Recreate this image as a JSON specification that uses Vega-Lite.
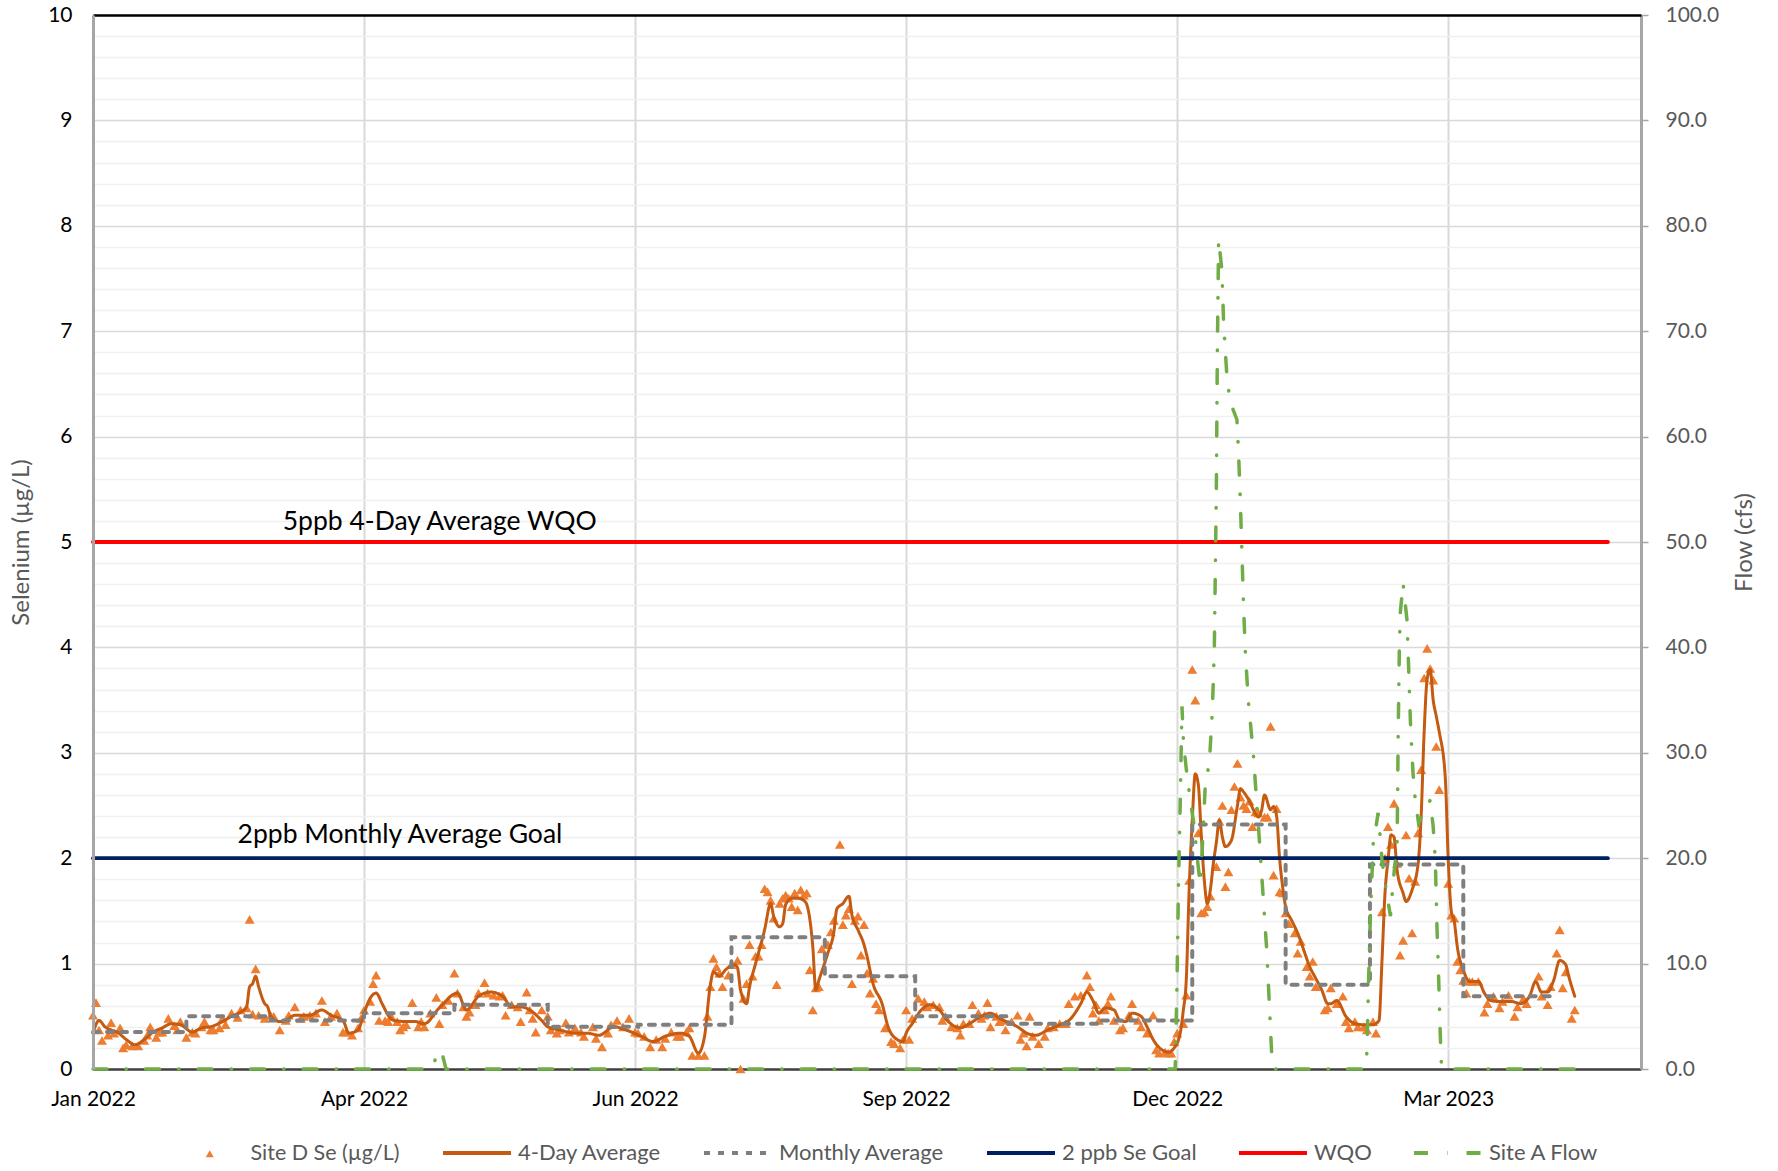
{
"$schema": "https://vega.github.io/schema/vega-lite/v6.json",
"width": 1548, "height": 1054,
"autosize": {"type": "none"},
"padding": {"left": 93, "top": 15, "right": 137, "bottom": 102},
"background": "white",
"config": {"view": {"stroke": null}, "font": "Lato", "axis": {"labelFont": "Lato", "titleFont": "Lato", "titleFontWeight": "normal", "labelFlush": false, "labelOverlap": false}},
"datasets": {
"se": [
{"date":"2022/01/01","value":0.51},{"date":"2022/01/02","value":0.63},{"date":"2022/01/03","value":0.37},{"date":"2022/01/04","value":0.27},{"date":"2022/01/06","value":0.32},{"date":"2022/01/07","value":0.44},{"date":"2022/01/08","value":0.34},{"date":"2022/01/10","value":0.39},{"date":"2022/01/11","value":0.20},{"date":"2022/01/12","value":0.23},{"date":"2022/01/14","value":0.22},{"date":"2022/01/16","value":0.22},{"date":"2022/01/18","value":0.27},{"date":"2022/01/19","value":0.32},{"date":"2022/01/20","value":0.40},{"date":"2022/01/22","value":0.30},{"date":"2022/01/23","value":0.35},{"date":"2022/01/24","value":0.35},{"date":"2022/01/26","value":0.48},{"date":"2022/01/28","value":0.41},{"date":"2022/01/29","value":0.37},{"date":"2022/01/30","value":0.45},
{"date":"2022/02/01","value":0.30},{"date":"2022/02/03","value":0.35},{"date":"2022/02/04","value":0.34},{"date":"2022/02/06","value":0.40},{"date":"2022/02/07","value":0.45},{"date":"2022/02/09","value":0.37},{"date":"2022/02/10","value":0.37},{"date":"2022/02/12","value":0.39},{"date":"2022/02/13","value":0.48},{"date":"2022/02/14","value":0.42},{"date":"2022/02/16","value":0.53},{"date":"2022/02/18","value":0.49},{"date":"2022/02/19","value":0.56},{"date":"2022/02/21","value":0.58},{"date":"2022/02/22","value":1.42},{"date":"2022/02/23","value":0.52},{"date":"2022/02/24","value":0.95},{"date":"2022/02/25","value":0.51},{"date":"2022/02/27","value":0.48},
{"date":"2022/03/01","value":0.51},{"date":"2022/03/02","value":0.50},{"date":"2022/03/04","value":0.37},{"date":"2022/03/06","value":0.46},{"date":"2022/03/07","value":0.51},{"date":"2022/03/09","value":0.59},{"date":"2022/03/11","value":0.48},{"date":"2022/03/12","value":0.50},{"date":"2022/03/14","value":0.51},{"date":"2022/03/16","value":0.53},{"date":"2022/03/18","value":0.65},{"date":"2022/03/19","value":0.45},{"date":"2022/03/21","value":0.50},{"date":"2022/03/23","value":0.53},{"date":"2022/03/25","value":0.35},{"date":"2022/03/26","value":0.35},{"date":"2022/03/28","value":0.32},{"date":"2022/03/30","value":0.39},{"date":"2022/03/31","value":0.48},
{"date":"2022/04/01","value":0.56},{"date":"2022/04/03","value":0.64},{"date":"2022/04/04","value":0.81},{"date":"2022/04/05","value":0.89},{"date":"2022/04/06","value":0.46},{"date":"2022/04/08","value":0.46},{"date":"2022/04/09","value":0.45},{"date":"2022/04/10","value":0.50},{"date":"2022/04/12","value":0.45},{"date":"2022/04/13","value":0.37},{"date":"2022/04/14","value":0.40},{"date":"2022/04/15","value":0.42},{"date":"2022/04/17","value":0.63},{"date":"2022/04/19","value":0.40},{"date":"2022/04/20","value":0.45},{"date":"2022/04/21","value":0.40},{"date":"2022/04/23","value":0.53},{"date":"2022/04/25","value":0.68},{"date":"2022/04/26","value":0.43},{"date":"2022/04/27","value":0.61},{"date":"2022/04/29","value":0.65},
{"date":"2022/05/01","value":0.91},{"date":"2022/05/02","value":0.72},{"date":"2022/05/04","value":0.59},{"date":"2022/05/05","value":0.50},{"date":"2022/05/06","value":0.54},{"date":"2022/05/08","value":0.61},{"date":"2022/05/09","value":0.72},{"date":"2022/05/11","value":0.82},{"date":"2022/05/12","value":0.72},{"date":"2022/05/14","value":0.70},{"date":"2022/05/16","value":0.69},{"date":"2022/05/17","value":0.70},{"date":"2022/05/18","value":0.51},{"date":"2022/05/20","value":0.61},{"date":"2022/05/22","value":0.59},{"date":"2022/05/23","value":0.45},{"date":"2022/05/25","value":0.73},{"date":"2022/05/26","value":0.56},{"date":"2022/05/27","value":0.48},{"date":"2022/05/28","value":0.35},{"date":"2022/05/30","value":0.56},
{"date":"2022/06/01","value":0.50},{"date":"2022/06/02","value":0.37},{"date":"2022/06/04","value":0.34},{"date":"2022/06/05","value":0.37},{"date":"2022/06/07","value":0.44},{"date":"2022/06/08","value":0.35},{"date":"2022/06/10","value":0.39},{"date":"2022/06/12","value":0.35},{"date":"2022/06/13","value":0.31},{"date":"2022/06/16","value":0.40},{"date":"2022/06/17","value":0.29},{"date":"2022/06/19","value":0.21},{"date":"2022/06/21","value":0.34},{"date":"2022/06/22","value":0.42},{"date":"2022/06/24","value":0.46},{"date":"2022/06/26","value":0.40},{"date":"2022/06/28","value":0.48},{"date":"2022/06/30","value":0.35},
{"date":"2022/07/01","value":0.34},{"date":"2022/07/03","value":0.31},{"date":"2022/07/05","value":0.21},{"date":"2022/07/07","value":0.28},{"date":"2022/07/09","value":0.21},{"date":"2022/07/10","value":0.29},{"date":"2022/07/12","value":0.35},{"date":"2022/07/14","value":0.31},{"date":"2022/07/15","value":0.31},{"date":"2022/07/17","value":0.35},{"date":"2022/07/18","value":0.39},{"date":"2022/07/19","value":0.13},{"date":"2022/07/21","value":0.13},{"date":"2022/07/23","value":0.13},{"date":"2022/07/24","value":0.50},{"date":"2022/07/25","value":0.78},{"date":"2022/07/26","value":1.05},{"date":"2022/07/27","value":0.97},{"date":"2022/07/28","value":0.91},{"date":"2022/07/29","value":0.78},{"date":"2022/07/31","value":0.89},
{"date":"2022/08/01","value":0.99},{"date":"2022/08/03","value":1.03},{"date":"2022/08/04","value":0.00},{"date":"2022/08/05","value":0.67},{"date":"2022/08/06","value":0.81},{"date":"2022/08/07","value":1.18},{"date":"2022/08/08","value":0.88},{"date":"2022/08/09","value":1.07},{"date":"2022/08/10","value":1.07},{"date":"2022/08/11","value":1.18},{"date":"2022/08/12","value":1.71},{"date":"2022/08/13","value":1.68},{"date":"2022/08/14","value":1.60},{"date":"2022/08/15","value":1.43},{"date":"2022/08/16","value":0.80},{"date":"2022/08/17","value":1.57},{"date":"2022/08/18","value":1.62},{"date":"2022/08/19","value":1.65},{"date":"2022/08/20","value":1.62},{"date":"2022/08/21","value":1.54},{"date":"2022/08/22","value":1.67},{"date":"2022/08/23","value":1.51},{"date":"2022/08/24","value":1.70},{"date":"2022/08/25","value":1.65},{"date":"2022/08/26","value":1.67},{"date":"2022/08/27","value":0.94},{"date":"2022/08/28","value":0.56},{"date":"2022/08/29","value":0.77},{"date":"2022/08/30","value":0.78},{"date":"2022/08/31","value":1.14},
{"date":"2022/09/02","value":1.18},{"date":"2022/09/03","value":1.30},{"date":"2022/09/04","value":1.41},{"date":"2022/09/06","value":2.13},{"date":"2022/09/07","value":1.37},{"date":"2022/09/08","value":1.46},{"date":"2022/09/09","value":1.52},{"date":"2022/09/10","value":0.81},{"date":"2022/09/11","value":1.41},{"date":"2022/09/12","value":1.45},{"date":"2022/09/13","value":1.08},{"date":"2022/09/14","value":1.37},{"date":"2022/09/15","value":0.91},{"date":"2022/09/16","value":0.72},{"date":"2022/09/17","value":0.86},{"date":"2022/09/18","value":0.62},{"date":"2022/09/19","value":0.56},{"date":"2022/09/21","value":0.39},{"date":"2022/09/23","value":0.26},{"date":"2022/09/24","value":0.24},{"date":"2022/09/26","value":0.20},{"date":"2022/09/27","value":0.28},{"date":"2022/09/28","value":0.56},{"date":"2022/09/29","value":0.28},{"date":"2022/09/30","value":0.48},
{"date":"2022/10/02","value":0.67},{"date":"2022/10/04","value":0.64},{"date":"2022/10/05","value":0.59},{"date":"2022/10/07","value":0.61},{"date":"2022/10/09","value":0.59},{"date":"2022/10/10","value":0.46},{"date":"2022/10/11","value":0.50},{"date":"2022/10/13","value":0.40},{"date":"2022/10/15","value":0.39},{"date":"2022/10/16","value":0.32},{"date":"2022/10/17","value":0.43},{"date":"2022/10/19","value":0.43},{"date":"2022/10/20","value":0.61},{"date":"2022/10/22","value":0.53},{"date":"2022/10/23","value":0.48},{"date":"2022/10/24","value":0.51},{"date":"2022/10/25","value":0.63},{"date":"2022/10/26","value":0.40},{"date":"2022/10/28","value":0.50},{"date":"2022/10/29","value":0.45},{"date":"2022/10/30","value":0.46},{"date":"2022/10/31","value":0.37},
{"date":"2022/11/02","value":0.45},{"date":"2022/11/04","value":0.51},{"date":"2022/11/05","value":0.28},{"date":"2022/11/06","value":0.34},{"date":"2022/11/07","value":0.22},{"date":"2022/11/08","value":0.50},{"date":"2022/11/09","value":0.31},{"date":"2022/11/11","value":0.24},{"date":"2022/11/13","value":0.31},{"date":"2022/11/14","value":0.39},{"date":"2022/11/16","value":0.40},{"date":"2022/11/18","value":0.43},{"date":"2022/11/20","value":0.43},{"date":"2022/11/21","value":0.62},{"date":"2022/11/23","value":0.69},{"date":"2022/11/25","value":0.70},{"date":"2022/11/27","value":0.89},{"date":"2022/11/28","value":0.78},{"date":"2022/11/29","value":0.53},{"date":"2022/11/30","value":0.61},
{"date":"2022/12/01","value":0.46},{"date":"2022/12/03","value":0.56},{"date":"2022/12/04","value":0.62},{"date":"2022/12/05","value":0.69},{"date":"2022/12/06","value":0.46},{"date":"2022/12/08","value":0.37},{"date":"2022/12/09","value":0.39},{"date":"2022/12/11","value":0.51},{"date":"2022/12/12","value":0.62},{"date":"2022/12/14","value":0.46},{"date":"2022/12/15","value":0.40},{"date":"2022/12/17","value":0.34},{"date":"2022/12/19","value":0.51},{"date":"2022/12/20","value":0.18},{"date":"2022/12/21","value":0.15},{"date":"2022/12/23","value":0.16},{"date":"2022/12/24","value":0.15},{"date":"2022/12/25","value":0.15},{"date":"2022/12/26","value":0.26},{"date":"2022/12/27","value":0.34},{"date":"2022/12/29","value":0.43},{"date":"2022/12/30","value":0.70},{"date":"2022/12/31","value":1.79},
{"date":"2023/01/01","value":3.79},{"date":"2023/01/02","value":3.50},{"date":"2023/01/03","value":2.24},{"date":"2023/01/04","value":1.48},{"date":"2023/01/05","value":1.49},{"date":"2023/01/06","value":1.54},{"date":"2023/01/07","value":1.64},{"date":"2023/01/09","value":1.92},{"date":"2023/01/10","value":2.35},{"date":"2023/01/11","value":2.50},{"date":"2023/01/12","value":1.73},{"date":"2023/01/13","value":1.87},{"date":"2023/01/14","value":2.46},{"date":"2023/01/15","value":2.68},{"date":"2023/01/16","value":2.90},{"date":"2023/01/17","value":2.58},{"date":"2023/01/18","value":2.50},{"date":"2023/01/19","value":2.47},{"date":"2023/01/20","value":2.54},{"date":"2023/01/21","value":2.30},{"date":"2023/01/22","value":2.44},{"date":"2023/01/23","value":2.43},{"date":"2023/01/25","value":2.39},{"date":"2023/01/26","value":2.39},{"date":"2023/01/27","value":3.25},{"date":"2023/01/28","value":1.84},{"date":"2023/01/29","value":2.47},{"date":"2023/01/30","value":1.68},{"date":"2023/01/31","value":1.67},
{"date":"2023/02/01","value":1.48},{"date":"2023/02/02","value":1.38},{"date":"2023/02/04","value":1.29},{"date":"2023/02/05","value":1.10},{"date":"2023/02/06","value":1.21},{"date":"2023/02/08","value":0.97},{"date":"2023/02/09","value":0.88},{"date":"2023/02/10","value":1.02},{"date":"2023/02/11","value":0.78},{"date":"2023/02/14","value":0.56},{"date":"2023/02/15","value":0.58},{"date":"2023/02/16","value":0.77},{"date":"2023/02/18","value":0.62},{"date":"2023/02/20","value":0.69},{"date":"2023/02/21","value":0.45},{"date":"2023/02/22","value":0.39},{"date":"2023/02/24","value":0.45},{"date":"2023/02/25","value":0.40},{"date":"2023/02/27","value":0.40},{"date":"2023/02/28","value":0.37},
{"date":"2023/03/02","value":0.45},{"date":"2023/03/03","value":0.34},{"date":"2023/03/05","value":1.49},{"date":"2023/03/06","value":2.00},{"date":"2023/03/07","value":2.30},{"date":"2023/03/08","value":2.13},{"date":"2023/03/09","value":2.52},{"date":"2023/03/10","value":1.95},{"date":"2023/03/11","value":1.08},{"date":"2023/03/12","value":1.22},{"date":"2023/03/13","value":2.22},{"date":"2023/03/14","value":1.81},{"date":"2023/03/15","value":1.29},{"date":"2023/03/16","value":1.78},{"date":"2023/03/17","value":2.24},{"date":"2023/03/18","value":2.84},{"date":"2023/03/19","value":3.71},{"date":"2023/03/20","value":3.99},{"date":"2023/03/21","value":3.80},{"date":"2023/03/22","value":3.69},{"date":"2023/03/23","value":3.06},{"date":"2023/03/24","value":2.65},{"date":"2023/03/27","value":1.76},{"date":"2023/03/28","value":1.46},{"date":"2023/03/29","value":1.43},{"date":"2023/03/30","value":1.02},{"date":"2023/03/31","value":0.94},
{"date":"2023/04/01","value":0.84},{"date":"2023/04/02","value":0.72},{"date":"2023/04/03","value":0.83},{"date":"2023/04/04","value":0.83},{"date":"2023/04/06","value":0.83},{"date":"2023/04/08","value":0.54},{"date":"2023/04/09","value":0.62},{"date":"2023/04/11","value":0.69},{"date":"2023/04/13","value":0.58},{"date":"2023/04/14","value":0.64},{"date":"2023/04/16","value":0.70},{"date":"2023/04/18","value":0.50},{"date":"2023/04/19","value":0.59},{"date":"2023/04/21","value":0.67},{"date":"2023/04/22","value":0.62},{"date":"2023/04/26","value":0.88},{"date":"2023/04/27","value":0.69},{"date":"2023/04/29","value":0.61},{"date":"2023/04/30","value":0.78},{"date":"2023/05/02","value":1.10},{"date":"2023/05/03","value":1.32},{"date":"2023/05/04","value":0.77},{"date":"2023/05/05","value":0.92},{"date":"2023/05/07","value":0.48},{"date":"2023/05/08","value":0.56}
],
"avg4": [
{"date":"2022/01/01","value":0.34},{"date":"2022/01/03","value":0.46},{"date":"2022/01/05","value":0.40},{"date":"2022/01/07","value":0.37},{"date":"2022/01/09","value":0.35},{"date":"2022/01/12","value":0.28},{"date":"2022/01/15","value":0.23},{"date":"2022/01/18","value":0.28},{"date":"2022/01/21","value":0.35},{"date":"2022/01/24","value":0.39},{"date":"2022/01/27","value":0.43},{"date":"2022/01/30","value":0.42},{"date":"2022/02/03","value":0.35},{"date":"2022/02/06","value":0.39},{"date":"2022/02/09","value":0.40},{"date":"2022/02/13","value":0.45},{"date":"2022/02/16","value":0.50},{"date":"2022/02/19","value":0.54},{"date":"2022/02/21","value":0.59},{"date":"2022/02/22","value":0.78},{"date":"2022/02/23","value":0.81},{"date":"2022/02/24","value":0.88},{"date":"2022/02/25","value":0.78},{"date":"2022/02/27","value":0.62},{"date":"2022/02/28","value":0.59},{"date":"2022/03/01","value":0.50},{"date":"2022/03/04","value":0.45},{"date":"2022/03/06","value":0.46},{"date":"2022/03/09","value":0.51},{"date":"2022/03/14","value":0.51},{"date":"2022/03/18","value":0.56},{"date":"2022/03/21","value":0.51},{"date":"2022/03/25","value":0.46},{"date":"2022/03/27","value":0.34},{"date":"2022/03/30","value":0.37},{"date":"2022/04/01","value":0.53},{"date":"2022/04/03","value":0.67},{"date":"2022/04/05","value":0.72},{"date":"2022/04/07","value":0.62},{"date":"2022/04/09","value":0.51},{"date":"2022/04/11","value":0.46},{"date":"2022/04/15","value":0.45},{"date":"2022/04/18","value":0.45},{"date":"2022/04/21","value":0.43},{"date":"2022/04/26","value":0.58},{"date":"2022/05/02","value":0.72},{"date":"2022/05/05","value":0.56},{"date":"2022/05/09","value":0.69},{"date":"2022/05/13","value":0.73},{"date":"2022/05/17","value":0.69},{"date":"2022/05/20","value":0.59},{"date":"2022/05/23","value":0.59},{"date":"2022/05/26","value":0.56},{"date":"2022/05/30","value":0.46},{"date":"2022/06/01","value":0.40},{"date":"2022/06/05","value":0.37},{"date":"2022/06/10","value":0.34},{"date":"2022/06/14","value":0.34},{"date":"2022/06/18","value":0.32},{"date":"2022/06/23","value":0.40},{"date":"2022/06/27","value":0.37},{"date":"2022/07/02","value":0.31},{"date":"2022/07/06","value":0.26},{"date":"2022/07/10","value":0.31},{"date":"2022/07/15","value":0.34},{"date":"2022/07/18","value":0.31},{"date":"2022/07/21","value":0.15},{"date":"2022/07/23","value":0.30},{"date":"2022/07/25","value":0.80},{"date":"2022/07/26","value":0.92},{"date":"2022/07/28","value":0.88},{"date":"2022/07/30","value":0.94},{"date":"2022/08/02","value":0.99},{"date":"2022/08/03","value":0.96},{"date":"2022/08/04","value":0.75},{"date":"2022/08/06","value":0.62},{"date":"2022/08/07","value":0.78},{"date":"2022/08/09","value":1.00},{"date":"2022/08/12","value":1.32},{"date":"2022/08/14","value":1.57},{"date":"2022/08/15","value":1.45},{"date":"2022/08/17","value":1.35},{"date":"2022/08/18","value":1.38},{"date":"2022/08/19","value":1.56},{"date":"2022/08/21","value":1.62},{"date":"2022/08/23","value":1.62},{"date":"2022/08/25","value":1.60},{"date":"2022/08/26","value":1.56},{"date":"2022/08/28","value":1.16},{"date":"2022/08/29","value":0.75},{"date":"2022/08/30","value":0.84},{"date":"2022/09/02","value":1.10},{"date":"2022/09/04","value":1.30},{"date":"2022/09/05","value":1.52},{"date":"2022/09/07","value":1.57},{"date":"2022/09/09","value":1.64},{"date":"2022/09/10","value":1.46},{"date":"2022/09/12","value":1.32},{"date":"2022/09/14","value":1.18},{"date":"2022/09/15","value":1.07},{"date":"2022/09/17","value":0.81},{"date":"2022/09/20","value":0.62},{"date":"2022/09/22","value":0.40},{"date":"2022/09/25","value":0.28},{"date":"2022/09/27","value":0.26},{"date":"2022/09/28","value":0.34},{"date":"2022/09/30","value":0.43},{"date":"2022/10/03","value":0.56},{"date":"2022/10/06","value":0.61},{"date":"2022/10/09","value":0.56},{"date":"2022/10/12","value":0.45},{"date":"2022/10/16","value":0.39},{"date":"2022/10/19","value":0.43},{"date":"2022/10/23","value":0.50},{"date":"2022/10/26","value":0.53},{"date":"2022/10/29","value":0.48},{"date":"2022/11/01","value":0.44},{"date":"2022/11/04","value":0.40},{"date":"2022/11/07","value":0.34},{"date":"2022/11/10","value":0.32},{"date":"2022/11/14","value":0.37},{"date":"2022/11/18","value":0.42},{"date":"2022/11/21","value":0.46},{"date":"2022/11/25","value":0.62},{"date":"2022/11/27","value":0.73},{"date":"2022/11/29","value":0.65},{"date":"2022/12/01","value":0.53},{"date":"2022/12/03","value":0.58},{"date":"2022/12/06","value":0.56},{"date":"2022/12/08","value":0.46},{"date":"2022/12/10","value":0.45},{"date":"2022/12/12","value":0.53},{"date":"2022/12/15","value":0.50},{"date":"2022/12/17","value":0.40},{"date":"2022/12/19","value":0.28},{"date":"2022/12/22","value":0.18},{"date":"2022/12/24","value":0.16},{"date":"2022/12/26","value":0.20},{"date":"2022/12/28","value":0.34},{"date":"2022/12/29","value":0.55},{"date":"2022/12/30","value":0.84},{"date":"2022/12/31","value":1.73},{"date":"2023/01/01","value":2.36},{"date":"2023/01/02","value":2.80},{"date":"2023/01/03","value":2.70},{"date":"2023/01/04","value":2.22},{"date":"2023/01/05","value":1.79},{"date":"2023/01/06","value":1.57},{"date":"2023/01/07","value":1.70},{"date":"2023/01/08","value":1.95},{"date":"2023/01/09","value":2.15},{"date":"2023/01/10","value":2.36},{"date":"2023/01/11","value":2.20},{"date":"2023/01/12","value":2.11},{"date":"2023/01/14","value":2.17},{"date":"2023/01/16","value":2.50},{"date":"2023/01/17","value":2.66},{"date":"2023/01/18","value":2.63},{"date":"2023/01/20","value":2.54},{"date":"2023/01/22","value":2.42},{"date":"2023/01/23","value":2.39},{"date":"2023/01/24","value":2.45},{"date":"2023/01/25","value":2.60},{"date":"2023/01/27","value":2.46},{"date":"2023/01/28","value":2.49},{"date":"2023/01/29","value":2.40},{"date":"2023/01/30","value":2.00},{"date":"2023/01/31","value":1.73},{"date":"2023/02/01","value":1.54},{"date":"2023/02/03","value":1.41},{"date":"2023/02/05","value":1.29},{"date":"2023/02/07","value":1.13},{"date":"2023/02/09","value":0.97},{"date":"2023/02/11","value":0.86},{"date":"2023/02/13","value":0.75},{"date":"2023/02/15","value":0.62},{"date":"2023/02/16","value":0.62},{"date":"2023/02/18","value":0.65},{"date":"2023/02/21","value":0.50},{"date":"2023/02/24","value":0.43},{"date":"2023/02/27","value":0.42},{"date":"2023/03/02","value":0.42},{"date":"2023/03/04","value":0.46},{"date":"2023/03/05","value":1.03},{"date":"2023/03/06","value":1.67},{"date":"2023/03/07","value":1.98},{"date":"2023/03/08","value":2.22},{"date":"2023/03/09","value":2.20},{"date":"2023/03/10","value":1.89},{"date":"2023/03/12","value":1.67},{"date":"2023/03/13","value":1.59},{"date":"2023/03/15","value":1.70},{"date":"2023/03/17","value":1.95},{"date":"2023/03/18","value":2.40},{"date":"2023/03/19","value":3.20},{"date":"2023/03/20","value":3.70},{"date":"2023/03/21","value":3.79},{"date":"2023/03/22","value":3.50},{"date":"2023/03/23","value":3.35},{"date":"2023/03/24","value":3.20},{"date":"2023/03/26","value":2.77},{"date":"2023/03/27","value":1.98},{"date":"2023/03/28","value":1.50},{"date":"2023/03/29","value":1.40},{"date":"2023/03/30","value":1.16},{"date":"2023/04/01","value":0.94},{"date":"2023/04/03","value":0.83},{"date":"2023/04/06","value":0.83},{"date":"2023/04/08","value":0.72},{"date":"2023/04/10","value":0.65},{"date":"2023/04/13","value":0.64},{"date":"2023/04/17","value":0.64},{"date":"2023/04/20","value":0.62},{"date":"2023/04/23","value":0.69},{"date":"2023/04/25","value":0.83},{"date":"2023/04/27","value":0.73},{"date":"2023/04/29","value":0.73},{"date":"2023/05/01","value":0.84},{"date":"2023/05/03","value":1.03},{"date":"2023/05/05","value":0.99},{"date":"2023/05/06","value":0.88},{"date":"2023/05/08","value":0.69}
],
"monthly": [
{"date":"2022/01/01","value":0.35},{"date":"2022/02/01","value":0.50},{"date":"2022/03/01","value":0.46},{"date":"2022/04/01","value":0.53},{"date":"2022/05/01","value":0.61},{"date":"2022/06/01","value":0.40},{"date":"2022/07/01","value":0.42},{"date":"2022/08/01","value":1.25},{"date":"2022/09/01","value":0.88},{"date":"2022/10/01","value":0.50},{"date":"2022/11/01","value":0.43},{"date":"2022/12/01","value":0.46},{"date":"2023/01/01","value":2.32},{"date":"2023/02/01","value":0.80},{"date":"2023/03/01","value":1.94},{"date":"2023/04/01","value":0.69},{"date":"2023/04/30","value":0.69}
],
"goal": [{"date":"2022/01/01","value":2},{"date":"2023/05/19","value":2}],
"wqo": [{"date":"2022/01/01","value":5},{"date":"2023/05/19","value":5}],
"flow": [
{"date":"2022/01/01 00:00","cfs":0},{"date":"2022/04/23 14:00","cfs":0},{"date":"2022/04/25 17:00","cfs":1.8},{"date":"2022/04/27 02:00","cfs":1.3},{"date":"2022/04/28 05:00","cfs":0},
{"date":"2022/12/26 08:00","cfs":0},{"date":"2022/12/26 22:00","cfs":7.8},{"date":"2022/12/27 10:00","cfs":17.3},{"date":"2022/12/28 00:00","cfs":25.2},{"date":"2022/12/28 14:00","cfs":34.4},{"date":"2022/12/29 02:00","cfs":31},{"date":"2022/12/30 00:00","cfs":28.5},{"date":"2022/12/31 08:00","cfs":25.5},{"date":"2023/01/01 16:00","cfs":23},{"date":"2023/01/02 16:00","cfs":20},{"date":"2023/01/03 16:00","cfs":17.5},{"date":"2023/01/04 08:00","cfs":21},{"date":"2023/01/05 08:00","cfs":27},{"date":"2023/01/06 16:00","cfs":29},{"date":"2023/01/07 16:00","cfs":34},{"date":"2023/01/08 08:00","cfs":40},{"date":"2023/01/09 00:00","cfs":55},{"date":"2023/01/09 08:00","cfs":68},{"date":"2023/01/09 18:00","cfs":78.7},{"date":"2023/01/10 20:00","cfs":75.8},{"date":"2023/01/11 10:00","cfs":70.8},{"date":"2023/01/12 12:00","cfs":65.7},{"date":"2023/01/13 14:00","cfs":63.3},{"date":"2023/01/15 20:00","cfs":61.6},{"date":"2023/01/16 09:00","cfs":58.4},{"date":"2023/01/16 22:00","cfs":54.3},{"date":"2023/01/17 12:00","cfs":48.9},{"date":"2023/01/18 00:00","cfs":44.2},{"date":"2023/01/18 14:00","cfs":39.8},{"date":"2023/01/19 14:00","cfs":35},{"date":"2023/01/21 06:00","cfs":30},{"date":"2023/01/23 14:00","cfs":20.5},{"date":"2023/01/25 19:00","cfs":11},{"date":"2023/01/27 11:00","cfs":0.9},{"date":"2023/01/28 05:00","cfs":0},
{"date":"2023/02/27 11:00","cfs":0},{"date":"2023/02/28 00:00","cfs":1.6},{"date":"2023/02/28 12:00","cfs":7.8},{"date":"2023/03/01 02:00","cfs":14},{"date":"2023/03/02 02:00","cfs":21.4},{"date":"2023/03/02 17:00","cfs":22.4},{"date":"2023/03/03 17:00","cfs":24.3},{"date":"2023/03/04 10:00","cfs":22},{"date":"2023/03/05 00:00","cfs":19.8},{"date":"2023/03/06 10:00","cfs":17},{"date":"2023/03/07 19:00","cfs":14.5},{"date":"2023/03/08 19:00","cfs":18},{"date":"2023/03/10 00:00","cfs":21.4},{"date":"2023/03/10 05:00","cfs":26.2},{"date":"2023/03/10 08:00","cfs":30.9},{"date":"2023/03/10 19:00","cfs":40.4},{"date":"2023/03/11 02:00","cfs":43.3},{"date":"2023/03/12 00:00","cfs":46.1},{"date":"2023/03/13 07:00","cfs":42.6},{"date":"2023/03/13 20:00","cfs":38.2},{"date":"2023/03/14 10:00","cfs":33.1},{"date":"2023/03/15 07:00","cfs":28.1},{"date":"2023/03/16 01:00","cfs":25.5},{"date":"2023/03/17 04:00","cfs":23.3},{"date":"2023/03/19 00:00","cfs":24.5},{"date":"2023/03/21 00:00","cfs":25.5},{"date":"2023/03/22 00:00","cfs":23},{"date":"2023/03/22 17:00","cfs":19.8},{"date":"2023/03/23 06:00","cfs":13.5},{"date":"2023/03/23 19:00","cfs":8.8},{"date":"2023/03/24 08:00","cfs":3.4},{"date":"2023/03/24 17:00","cfs":0.6},{"date":"2023/03/25 10:00","cfs":0},{"date":"2023/05/14 00:00","cfs":0}
]
},
"layer": [
{"layer": [
 {"data": {"name": "se"},
  "mark": {"type": "point", "shape": "triangle-up", "filled": true, "size": 100, "opacity": 1},
  "encoding": {
   "x": {"field": "date", "type": "temporal",
     "scale": {"domain": [{"year": 2022, "month": 1, "date": 1}, {"year": 2023, "month": 5, "date": 30}], "nice": false},
     "axis": {"title": null, "orient": "bottom", "values": [{"year": 2022, "month": 1, "date": 1}, {"year": 2022, "month": 4, "date": 1}, {"year": 2022, "month": 6, "date": 30}, {"year": 2022, "month": 9, "date": 28}, {"year": 2022, "month": 12, "date": 27}, {"year": 2023, "month": 3, "date": 27}],
       "format": "%b %Y", "grid": true, "gridColor": "#D9D9D9", "gridWidth": 2, "ticks": false, "domainColor": "#3F3F3F", "domainWidth": 2.5,
       "labelFontSize": 21, "labelColor": "#000000", "labelPadding": 19, "labelFlush": false, "zindex": 0}},
   "y": {"field": "value", "type": "quantitative", "scale": {"domain": [0, 10], "nice": false},
     "axis": {"title": "Selenium (µg/L)", "orient": "left", "values": [0,1,2,3,4,5,6,7,8,9,10], "format": "d", "grid": false, "ticks": false,
       "domainColor": "#A6A6A6", "domainWidth": 3, "labelFontSize": 21, "labelColor": "#000000", "labelPadding": 21,
       "titleFontSize": 24, "titleColor": "#595959", "titlePadding": 14, "zindex": 1}},
   "fill": {"datum": "Site D Se (µg/L)",
     "scale": {"domain": ["Site D Se (µg/L)"], "range": ["#ED7D31"]},
     "legend": {"title": null, "orient": "none", "legendX": 106, "legendY": 1128, "symbolType": "triangle-up", "symbolSize": 64,
       "labelFont": "Lato", "labelFontSize": 21.5, "labelColor": "#595959", "labelOffset": 30, "labelLimit": 400}}
  }},
 {"data": {"name": "avg4"},
  "mark": {"type": "line", "interpolate": "monotone", "strokeWidth": 3, "strokeCap": "round", "strokeJoin": "round"},
  "encoding": {
   "x": {"field": "date", "type": "temporal"},
   "y": {"field": "value", "type": "quantitative"},
   "color": {"datum": "4-Day Average",
     "scale": {"domain": ["4-Day Average", "Monthly Average", "2 ppb Se Goal", "WQO", "Site A Flow"], "range": ["#C55A11", "#7F7F7F", "#002060", "#FF0000", "#70AD47"]},
     "legend": {"title": null, "orient": "none", "legendX": 348, "legendY": 1102, "direction": "horizontal", "columns": 5, "columnPadding": 34,
       "symbolType": "stroke", "symbolSize": 4624, "symbolStrokeWidth": 4, "symbolOpacity": 1,
       "labelFont": "Lato", "labelFontSize": 22, "labelColor": "#595959", "labelOffset": 5, "labelLimit": 400}},
   "strokeDash": {"datum": "4-Day Average",
     "scale": {"domain": ["4-Day Average", "Monthly Average", "2 ppb Se Goal", "WQO", "Site A Flow"], "range": [[1, 0], [6, 8], [1, 0], [1, 0], [14, 19, 0.5, 19]]}, "legend": {"title": null}}
  }},
 {"data": {"name": "monthly"},
  "mark": {"type": "line", "interpolate": "step-after", "strokeWidth": 4, "strokeCap": "round"},
  "encoding": {
   "x": {"field": "date", "type": "temporal"},
   "y": {"field": "value", "type": "quantitative"},
   "color": {"datum": "Monthly Average", "scale": {"domain": ["4-Day Average", "Monthly Average", "2 ppb Se Goal", "WQO", "Site A Flow"], "range": ["#C55A11", "#7F7F7F", "#002060", "#FF0000", "#70AD47"]}},
   "strokeDash": {"datum": "Monthly Average", "scale": {"domain": ["4-Day Average", "Monthly Average", "2 ppb Se Goal", "WQO", "Site A Flow"], "range": [[1, 0], [6, 8], [1, 0], [1, 0], [14, 19, 0.5, 19]]}}
  }},
 {"data": {"name": "goal"},
  "mark": {"type": "line", "strokeWidth": 3.8, "strokeCap": "round"},
  "encoding": {
   "x": {"field": "date", "type": "temporal"},
   "y": {"field": "value", "type": "quantitative"},
   "color": {"datum": "2 ppb Se Goal", "scale": {"domain": ["4-Day Average", "Monthly Average", "2 ppb Se Goal", "WQO", "Site A Flow"], "range": ["#C55A11", "#7F7F7F", "#002060", "#FF0000", "#70AD47"]}}
  }},
 {"data": {"name": "wqo"},
  "mark": {"type": "line", "strokeWidth": 4, "strokeCap": "round"},
  "encoding": {
   "x": {"field": "date", "type": "temporal"},
   "y": {"field": "value", "type": "quantitative"},
   "color": {"datum": "WQO", "scale": {"domain": ["4-Day Average", "Monthly Average", "2 ppb Se Goal", "WQO", "Site A Flow"], "range": ["#C55A11", "#7F7F7F", "#002060", "#FF0000", "#70AD47"]}}
  }},
 {"data": {"values": [{"date": "2022/03/05", "value": 5, "label": "5ppb 4-Day Average WQO"}]},
  "mark": {"type": "text", "align": "left", "baseline": "alphabetic", "dy": -12, "fontSize": 26.5, "font": "Lato", "color": "#000000"},
  "encoding": {"x": {"field": "date", "type": "temporal"}, "y": {"field": "value", "type": "quantitative"}, "text": {"field": "label"}}},
 {"data": {"values": [{"date": "2022/02/18", "value": 2, "label": "2ppb Monthly Average Goal"}]},
  "mark": {"type": "text", "align": "left", "baseline": "alphabetic", "dy": -15, "fontSize": 26.5, "font": "Lato", "color": "#000000"},
  "encoding": {"x": {"field": "date", "type": "temporal"}, "y": {"field": "value", "type": "quantitative"}, "text": {"field": "label"}}}
]},
{"data": {"name": "flow"},
 "mark": {"type": "line", "strokeWidth": 3.5, "strokeCap": "round"},
 "encoding": {
  "x": {"field": "date", "type": "temporal",
    "axis": {"orient": "top", "title": null, "labels": false, "ticks": false, "grid": false, "domainColor": "#000000", "domainWidth": 2.5, "zindex": 1}},
  "y": {"field": "cfs", "type": "quantitative", "scale": {"domain": [0, 100], "nice": false},
    "axis": {"orient": "right", "title": "Flow (cfs)", "values": [0,2,4,6,8,10,12,14,16,18,20,22,24,26,28,30,32,34,36,38,40,42,44,46,48,50,52,54,56,58,60,62,64,66,68,70,72,74,76,78,80,82,84,86,88,90,92,94,96,98,100],
      "labelExpr": "datum.value % 10 === 0 ? format(datum.value, '.1f') : ''",
      "grid": true, "gridColor": {"condition": {"test": "datum.value % 10 === 0", "value": "#D9D9D9"}, "value": "#F0F0F0"}, "gridWidth": 1.6,
      "ticks": true, "tickSize": 7, "tickColor": "#A6A6A6", "tickWidth": 1.5, "tickOpacity": {"condition": {"test": "datum.value % 10 === 0", "value": 1}, "value": 0},
      "domainColor": "#A6A6A6", "domainWidth": 3, "labelFontSize": 21, "labelColor": "#595959", "labelPadding": 17,
      "titleFontSize": 24, "titleColor": "#595959", "titlePadding": 14, "titleAngle": 270, "titleBaseline": "top", "zindex": 0}},
  "color": {"datum": "Site A Flow", "scale": {"domain": ["4-Day Average", "Monthly Average", "2 ppb Se Goal", "WQO", "Site A Flow"], "range": ["#C55A11", "#7F7F7F", "#002060", "#FF0000", "#70AD47"]}},
  "strokeDash": {"datum": "Site A Flow", "scale": {"domain": ["4-Day Average", "Monthly Average", "2 ppb Se Goal", "WQO", "Site A Flow"], "range": [[1, 0], [6, 8], [1, 0], [1, 0], [14, 19, 0.5, 19]]}}
 }}
],
"resolve": {"scale": {"y": "independent"}, "axis": {"x": "independent", "y": "independent"}}
}
